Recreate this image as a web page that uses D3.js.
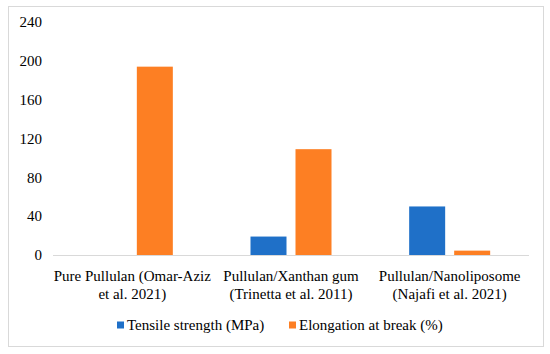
<!DOCTYPE html>
<html>
<head>
<meta charset="utf-8">
<script src="https://cdn.jsdelivr.net/npm/d3@7"></script>
<style>
  body { margin: 0; background: #fff; }
  #chart text { font-family: "Times New Roman", "Liberation Serif", Tinos, Times, serif; font-size: 15px; }
</style>
</head>
<body>
<svg id="chart" width="550" height="354"></svg>
<script>
// data
var categories = [
    ["Pure Pullulan (Omar-Aziz", "et al. 2021)"],
    ["Pullulan/Xanthan gum", "(Trinetta et al. 2011)"],
    ["Pullulan/Nanoliposome", "(Najafi et al. 2021)"]
];
var seriesNames = ["Tensile strength (MPa)", "Elongation at break (%)"];
var tensile = [0, 19, 50];
var elongation = [194, 109, 4.5];
var yTicks = [0, 40, 80, 120, 160, 200, 240];
var colors = ["#1f70c8", "#fd7f23"];

var svg = d3.select("#chart");

// outer frame
svg.append("rect")
    .attr("x", 8.5).attr("y", 6.5)
    .attr("width", 535).attr("height", 340)
    .attr("fill", "#fff")
    .attr("stroke", "#d9d9d9");

var plotLeft = 53, plotRight = 529, plotTop = 22, plotBottom = 255;

var x = d3.scaleBand()
    .domain(d3.range(categories.length))
    .range([plotLeft, plotRight]);

var xInner = d3.scaleBand()
    .domain([0, 1])
    .range([0, 81])
    .paddingInner(0.2);

var y = d3.scaleLinear()
    .domain([0, 240])
    .range([plotBottom, plotTop]);

// y tick labels
svg.append("g").selectAll("text")
    .data(yTicks)
    .enter().append("text")
    .attr("x", 42)
    .attr("y", function(d) { return y(d); })
    .attr("dy", "0.35em")
    .attr("text-anchor", "end")
    .text(function(d) { return d; });

// bars
var rows = categories.map(function(c, i) { return [tensile[i], elongation[i]]; });
var groups = svg.append("g").selectAll("g")
    .data(rows)
    .enter().append("g")
    .attr("transform", function(d, i) {
        return "translate(" + (x(i) + (x.bandwidth() - 81) / 2) + ",0)";
    });

groups.selectAll("rect")
    .data(function(d) { return d; })
    .enter().append("rect")
    .attr("x", function(d, j) { return xInner(j); })
    .attr("width", xInner.bandwidth())
    .attr("y", function(d) { return y(d); })
    .attr("height", function(d) { return plotBottom - y(d); })
    .attr("fill", function(d, j) { return colors[j]; });

// baseline
svg.append("line")
    .attr("x1", plotLeft).attr("x2", plotRight)
    .attr("y1", plotBottom + 0.5).attr("y2", plotBottom + 0.5)
    .attr("stroke", "#d9d9d9")
    .attr("stroke-width", 1);

// category labels, two lines each
var cat = svg.append("g").selectAll("text")
    .data(categories)
    .enter().append("text")
    .attr("text-anchor", "middle")
    .attr("transform", function(d, i) {
        return "translate(" + (x(i) + x.bandwidth() / 2) + ",281)";
    });

cat.selectAll("tspan")
    .data(function(d) { return d; })
    .enter().append("tspan")
    .attr("x", 0)
    .attr("dy", function(d, k) { return k === 0 ? 0 : 17.5; })
    .text(function(d) { return d; });

// legend
var legendX = [117, 289];
var legend = svg.append("g").selectAll("g")
    .data(seriesNames)
    .enter().append("g")
    .attr("transform", function(d, i) { return "translate(" + legendX[i] + ",325)"; });

legend.append("rect")
    .attr("x", 0).attr("y", -3.5)
    .attr("width", 7).attr("height", 7)
    .attr("fill", function(d, i) { return colors[i]; });

legend.append("text")
    .attr("x", 10)
    .attr("dy", "0.35em")
    .text(function(d) { return d; });
</script>
</body>
</html>
